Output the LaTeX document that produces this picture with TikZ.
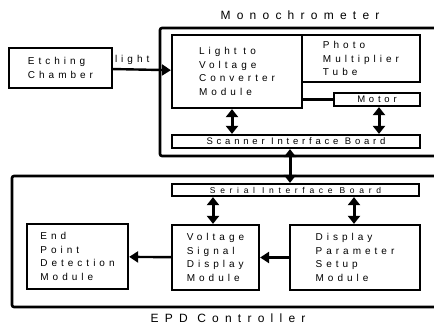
\documentclass[tikz,border=0pt]{standalone}
\usepackage{fontspec}
\setmainfont{Liberation Sans}[LetterSpace=40]
\newfontfamily\titlefont{Liberation Sans}[LetterSpace=52]
\newfontfamily\boardfont{Liberation Sans}[LetterSpace=55]
\usetikzlibrary{arrows.meta,calc}

\begin{document}
\begin{tikzpicture}[x=1pt, y=-1pt,
  unit/.style={rectangle, draw, line width=2.2pt, align=left,
               font=\fontsize{10}{13.5}\selectfont, inner sep=0pt},
  board/.style={rectangle, draw, line width=2.2pt, inner sep=0pt,
                font=\fontsize{9.5}{9.5}\selectfont},
  frame/.style={line width=2.6pt, rounded corners=2pt},
  title/.style={font=\titlefont\fontsize{12}{12}\selectfont},
  arr/.style={-{Triangle[width=11pt,length=9pt]}, line width=2.4pt},
  darr/.style={{Triangle[width=12pt,length=8pt]}-{Triangle[width=12pt,length=8pt]}, line width=3pt}
]
  \useasboundingbox (0,0) rectangle (434,324);

  % outer frames
  \draw[frame] (434,28) -- (160,28) -- (160,156) -- (434,156);
  \draw[frame] (434,176) -- (12,176) -- (12,307) -- (434,307);
  \node[title] (monolabel) at (300,15) {Monochrometer};
  \node[title] (epdlabel) at (228,318) {EPD Controller};

  % monochrometer
  \node[unit, minimum width=103pt, minimum height=40pt] (etch) at (60.5,68)
        {Etching\\Chamber};
  \node[unit, minimum width=130pt, minimum height=73pt] (lvc) at (237,71.5)
        {Light to\\Voltage\\Converter\\Module};
  \node[unit, minimum width=118pt, minimum height=47pt] (pmt) at (361,58.5)
        {Photo\\Multiplier\\Tube};
  \node[board, minimum width=86pt, minimum height=13pt] (motor) at (377,99.5)
        {Motor};
  \node[board, minimum width=248pt, minimum height=13pt] (scanner) at (296,141.5)
        {Scanner Interface Board};

  % EPD controller
  \node[board, minimum width=247pt, minimum height=12pt,
        font=\boardfont\fontsize{8.5}{8.5}\selectfont] (serial) at (295.5,190)
        {Serial Interface Board};
  \node[unit, minimum width=87pt, minimum height=65pt] (vsd) at (215.5,257.5)
        {Voltage\\Signal\\Display\\Module};
  \node[unit, minimum width=101pt, minimum height=65pt] (epdm) at (77.5,256.5)
        {End\\Point\\Detection\\Module};
  \node[unit, minimum width=130pt, minimum height=65pt] (dps) at (355,257.5)
        {Display\\Parameter\\Setup\\Module};

  \draw[arr] (etch) -- node[above, pos=0.33, font=\fontsize{10}{10}\selectfont] {light} (lvc);
  \draw[line width=2.2pt] (motor.west -| lvc.east) -- (motor.west);
  \draw[darr] (lvc.south -| 232,0) -- (scanner.north -| 232,0);
  \draw[darr] (motor.south -| 379,0) -- (scanner.north -| 379,0);
  \draw[darr] (scanner.south -| 290,0) -- (serial.north -| 290,0);
  \draw[darr] (serial.south -| 213,0) -- (vsd.north -| 213,0);
  \draw[darr] (serial.south -| 354,0) -- (dps.north -| 354,0);
  \draw[arr] (dps) -- (vsd);
  \draw[arr] (vsd) -- (epdm);
\end{tikzpicture}
\end{document}
